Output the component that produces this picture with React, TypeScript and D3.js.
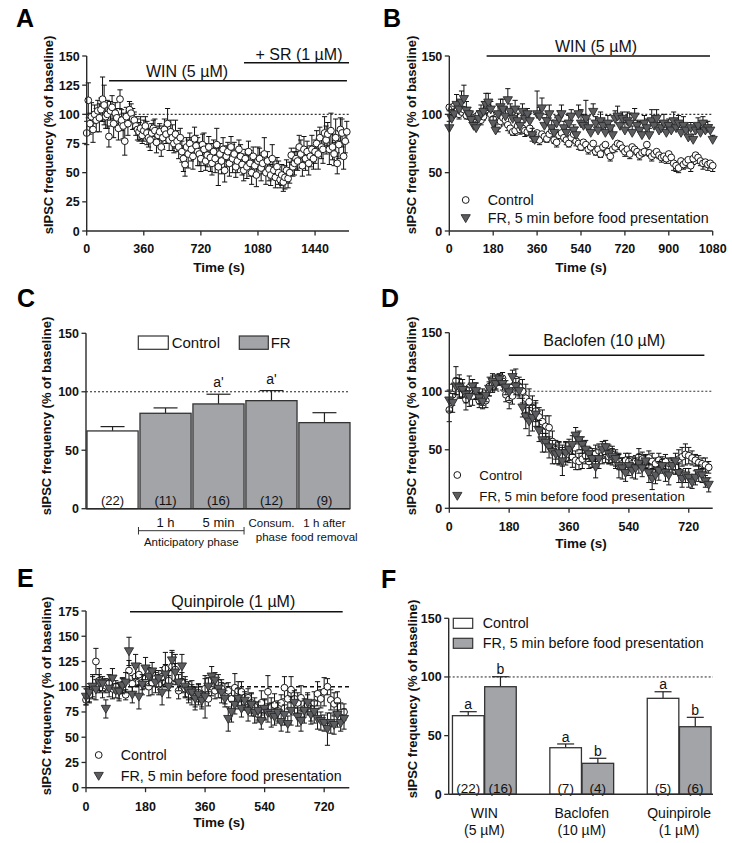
import React from 'react';
import * as d3 from 'd3';

// ---------------- DATA ----------------
// Panel A (WIN then +SR), 10 s bins
const binA = 10;
const aValues = [
  84, 112, 92, 98, 87, 100, 95, 103, 97, 104,
  113, 108, 98, 100, 81, 103, 106, 92, 101, 97,
  88, 113, 95, 90, 77, 98, 92, 104, 101, 96,
  95, 90, 87, 85, 88, 82, 86, 90, 84, 80,
  78, 84, 88, 86, 76, 82, 85, 72, 80, 87,
  83, 92, 78, 85, 80, 75, 83, 77, 72, 80,
  68, 62, 57, 72, 66, 75, 70, 64, 79, 73,
  68, 66, 62, 74, 70, 60, 65, 72, 63, 58,
  68, 62, 74, 55, 66, 60, 70, 52, 64, 68,
  58, 72, 62, 66, 55, 60, 70, 64, 57, 52,
  62, 55, 68, 58, 50, 64, 56, 48, 60, 62,
  54, 58, 66, 50, 60, 53, 48, 62, 52, 46,
  55, 50, 44, 48, 42, 46, 52, 45, 50, 65,
  55, 58, 62, 60, 72, 66, 56, 70, 62, 68,
  58, 64, 70, 62, 68, 75, 66, 80, 72, 70,
  84, 78, 83, 70, 86, 72, 66, 80, 58, 74,
  87, 84, 64, 77, 85,
];
const aErrors = [
  10, 15, 9, 12, 11, 8, 10, 9, 12, 10,
  19, 17, 10, 12, 9, 8, 10, 12, 9, 8,
  10, 8, 9, 11, 12, 8, 10, 7, 8, 9,
  7, 8, 9, 8, 10, 7, 9, 8, 10, 8,
  9, 8, 7, 10, 9, 8, 7, 8, 10, 9,
  8, 13, 9, 10, 11, 8, 12, 9, 10, 8,
  9, 11, 10, 8, 12, 9, 10, 11, 10, 9,
  12, 10, 11, 9, 14, 8, 10, 9, 12, 10,
  10, 12, 14, 16, 9, 11, 10, 10, 9, 8,
  11, 9, 12, 10, 9, 10, 8, 10, 9, 9,
  8, 10, 9, 11, 10, 8, 9, 10, 12, 9,
  11, 9, 14, 10, 8, 10, 9, 12, 8, 9,
  8, 10, 7, 9, 8, 10, 9, 8, 9, 6,
  8, 10, 9, 8, 10, 12, 9, 11, 10, 9,
  10, 9, 12, 9, 10, 11, 13, 9, 10, 12,
  14, 12, 10, 13, 15, 11, 10, 16, 9, 12,
  10, 12, 11, 10, 9,
];

// Panel B (WIN), 10 s bins
const binB = 10;
const bControl = [
  106, 104, 107, 103, 100, 102, 104, 99, 101, 97,
  96, 98, 100, 95, 98, 104, 106, 100, 96, 92,
  90, 94, 97, 95, 91, 88, 85, 86, 90, 87,
  88, 86, 85, 88, 82, 80, 84, 78, 83, 81,
  79, 83, 86, 78, 76, 82, 84, 80, 78, 75,
  80, 83, 77, 75, 72, 76, 74, 70, 72, 75,
  68, 70, 66, 72, 74, 68, 64, 70, 72, 75,
  74, 71, 68, 70, 66, 72, 70, 68, 65, 67,
  68, 74, 67, 64, 66, 68, 65, 63, 64, 62,
  66, 63, 58, 56, 54, 60, 57, 59, 61, 56,
  62, 65, 63, 60, 58, 59, 57, 58, 56,
];
const bControlErr = [
  3, 4, 3, 5, 4, 3, 4, 3, 5, 4,
  4, 3, 5, 4, 3, 4, 5, 4, 3, 4,
  5, 4, 3, 4, 5, 4, 3, 4, 5, 4,
  4, 5, 3, 4, 5, 4, 3, 4, 3, 4,
  3, 4, 5, 3, 4, 3, 4, 3, 4, 3,
  4, 3, 4, 5, 3, 4, 3, 4, 3, 4,
  3, 4, 3, 4, 5, 3, 4, 3, 4, 3,
  4, 3, 4, 3, 4, 3, 4, 3, 4, 3,
  3, 4, 3, 4, 3, 4, 3, 4, 3, 4,
  4, 5, 6, 5, 4, 5, 4, 5, 4, 5,
  5, 4, 5, 4, 5, 4, 5, 4, 5,
];
const bFR = [
  88, 96, 100, 108, 104, 110, 113, 103, 100, 95,
  90, 88, 96, 100, 102, 108, 110, 104, 92, 86,
  100, 106, 104, 98, 112, 102, 96, 104, 94, 90,
  102, 96, 100, 94, 82, 78, 100, 98, 105, 90,
  94, 100, 88, 84, 92, 96, 100, 88, 84, 92,
  98, 86, 82, 100, 92, 90, 96, 88, 84, 102,
  92, 86, 94, 90, 84, 92, 88, 82, 96, 98,
  90, 96, 86, 94, 92, 84, 98, 90, 86, 82,
  92, 88, 82, 94, 90, 96, 86, 88, 92, 84,
  90, 86, 94, 88, 92, 84, 90, 86, 80, 88,
  78, 86, 90, 84, 92, 86, 88, 86, 78,
];
const bFRErr = [
  6, 8, 7, 9, 8, 10, 12, 8, 6, 7,
  6, 5, 7, 8, 9, 10, 8, 7, 6, 5,
  8, 7, 9, 8, 10, 7, 6, 8, 7, 6,
  7, 6, 5, 7, 6, 5, 20, 8, 9, 7,
  6, 8, 7, 6, 5, 7, 8, 6, 5, 7,
  6, 5, 7, 8, 12, 10, 16, 8, 6, 7,
  6, 7, 8, 6, 5, 7, 6, 8, 7, 9,
  8, 6, 7, 8, 9, 6, 7, 5, 8, 6,
  7, 8, 6, 10, 9, 8, 7, 6, 8, 5,
  6, 7, 8, 6, 7, 5, 8, 6, 7, 5,
  5, 6, 7, 8, 6, 7, 6, 5, 4,
];

// Panel C (bars)
const cCategories = ['Control', '1 h', '5 min', 'Consum.', '1 h after'];
const cValues = [66.5, 81.6, 89.6, 92.4, 73.6];
const cErrors = [3.7, 4.6, 8.3, 8.6, 8.5];
const cCounts = ['(22)', '(11)', '(16)', '(12)', '(9)'];
const cLetters = ['', '', "a'", "a'", ''];
const cLabelLine1 = ['', '1 h', '5 min', 'Consum.', '1 h after'];
const cLabelLine2 = ['', '', '', 'phase', 'food removal'];

// Panel D (Baclofen), 10 s bins
const binD = 10;
const dControl = [
  84, 97, 109, 104, 102, 93, 103, 96, 100, 92,
  95, 92, 104, 106, 108, 110, 111, 97, 93, 96,
  110, 104, 100, 94, 91, 86, 83, 78, 74, 70,
  69, 57, 50, 47, 45, 48, 46, 44, 41, 40,
  42, 45, 40, 43, 47, 49, 45, 47, 44, 46,
  42, 40, 38, 41, 40, 38, 40, 44, 42, 40,
  43, 40, 38, 41, 39, 40, 36, 38, 35, 42,
  44, 46, 45, 43, 41, 39, 38, 37, 35,
];
const dControlErr = [
  10, 9, 12, 10, 8, 9, 10, 8, 7, 6,
  7, 6, 8, 7, 6, 5, 5, 6, 8, 7,
  9, 8, 10, 12, 11, 10, 9, 8, 10, 9,
  10, 9, 8, 10, 9, 8, 7, 9, 8, 7,
  8, 7, 6, 8, 7, 6, 7, 8, 6, 7,
  6, 7, 5, 6, 7, 6, 5, 7, 6, 5,
  6, 7, 5, 6, 5, 6, 7, 5, 6, 8,
  8, 9, 7, 6, 5, 6, 5, 6, 5,
];
const dFR = [
  92, 90, 104, 103, 101, 97, 95, 104, 100, 94,
  91, 96, 102, 108, 106, 110, 106, 103, 99, 112,
  104, 100, 86, 78, 74, 77, 80, 66, 58, 56,
  52, 48, 46, 47, 40, 47, 50, 54, 62, 58,
  54, 50, 46, 42, 35, 42, 50, 52, 46, 44,
  42, 36, 34, 30, 36, 32, 34, 38, 34, 40,
  30, 25, 28, 32, 36, 30, 28, 36, 40, 30,
  25, 28, 26, 22, 26, 30, 28, 23, 20,
];
const dFRErr = [
  9, 8, 7, 8, 6, 7, 8, 6, 7, 5,
  6, 5, 6, 7, 5, 4, 5, 6, 7, 6,
  7, 6, 8, 10, 12, 11, 10, 9, 10, 8,
  9, 10, 8, 9, 12, 10, 9, 8, 7, 8,
  7, 8, 6, 7, 9, 8, 7, 6, 8, 7,
  8, 10, 9, 7, 8, 6, 9, 8, 7, 6,
  8, 9, 7, 8, 6, 7, 8, 6, 7, 8,
  7, 6, 8, 5, 6, 7, 6, 5, 6,
];

// Panel E (Quinpirole), 10 s bins
const binE = 10;
const eControl = [
  87, 92, 100, 125, 106, 98, 101, 104, 98, 100,
  96, 102, 92, 116, 103, 110, 112, 104, 108, 100,
  104, 108, 102, 110, 118, 106, 120, 117, 96, 104,
  98, 92, 95, 90, 94, 88, 98, 88, 100, 96,
  104, 98, 93, 96, 88, 99, 96, 95, 85, 89,
  84, 80, 73, 84, 77, 95, 80, 82, 76, 84,
  99, 88, 97, 88, 84, 89, 78, 82, 75, 84,
  93, 88, 95, 100, 87, 83, 86, 74, 75,
];
const eControlErr = [
  5, 8, 10, 13, 12, 9, 7, 8, 10, 6,
  8, 6, 5, 10, 8, 9, 11, 7, 10, 9,
  12, 8, 10, 9, 16, 10, 14, 15, 8, 10,
  9, 8, 7, 10, 9, 8, 10, 7, 9, 8,
  8, 9, 10, 8, 12, 14, 9, 10, 8, 9,
  10, 9, 8, 12, 10, 16, 9, 11, 10, 8,
  11, 10, 13, 9, 10, 12, 8, 10, 9, 11,
  12, 9, 14, 8, 10, 11, 9, 10, 8,
];
const eFR = [
  90, 94, 100, 97, 104, 103, 78, 98, 108, 96,
  95, 101, 104, 135, 92, 120, 90, 102, 118, 110,
  115, 104, 108, 94, 112, 100, 126, 114, 104, 120,
  100, 96, 94, 88, 92, 86, 90, 100, 110, 106,
  98, 94, 88, 68, 75, 82, 88, 78, 86, 76,
  82, 74, 76, 66, 78, 74, 72, 70, 74, 65,
  72, 63, 76, 84, 70, 66, 76, 84, 72, 75,
  68, 66, 64, 58, 64, 62, 72, 64, 68,
];
const eFRErr = [
  8, 9, 12, 10, 8, 7, 9, 8, 10, 7,
  9, 8, 10, 14, 8, 12, 12, 10, 11, 9,
  9, 10, 8, 12, 10, 11, 10, 9, 8, 12,
  10, 9, 12, 11, 10, 8, 21, 9, 10, 8,
  9, 10, 8, 12, 10, 9, 10, 8, 9, 10,
  11, 10, 9, 8, 10, 9, 12, 8, 10, 9,
  10, 8, 14, 12, 9, 10, 12, 10, 9, 11,
  10, 9, 8, 16, 10, 9, 12, 8, 10,
];

// Panel F (grouped bars)
const fGroups = ['WIN', 'Baclofen', 'Quinpirole'];
const fGroupSub = ['(5 \u00b5M)', '(10 \u00b5M)', '(1 \u00b5M)'];
const fControl = [67, 39.7, 81.8];
const fControlErr = [3.4, 3.2, 5.6];
const fFR = [91.7, 26.4, 57.6];
const fFRErr = [8.5, 4.3, 8.0];
const fControlN = ['(22)', '(7)', '(5)'];
const fFRN = ['(16)', '(4)', '(6)'];

// Axis ticks
const ticksY150by25 = [0, 25, 50, 75, 100, 125, 150];
const ticksY150by50 = [0, 50, 100, 150];
const ticksY175by25 = [0, 25, 50, 75, 100, 125, 150, 175];
const ticksXA = [0, 360, 720, 1080, 1440];
const ticksXB = [0, 180, 360, 540, 720, 900, 1080];
const ticksXDE = [0, 180, 360, 540, 720];

// ---------------- STYLE ----------------
const FONT = "'Liberation Sans', Arial, Helvetica, sans-serif";
const AXIS = '#2a2a2a';
const BAR_GRAY = '#a2a4a8';
const TRI_FILL = '#5c5d60';
const YLABEL = 'sIPSC frequency (% of baseline)';
const MU = '\u00b5';

type Series = { values: number[]; errors: number[]; bin: number; shape: 'circle' | 'tri'; dir: 'both' | 'up' | 'down' };
type Drug = { t0: number; t1: number; y: number; label: string; lx: number; ly: number };

function triPath(x: number, y: number) {
  return `M${x - 4.6},${y - 3.6}L${x + 4.6},${y - 3.6}L${x},${y + 4.3}Z`;
}

function PanelLetter({ x, y, t }: { x: number; y: number; t: string }) {
  return (
    <text x={x} y={y} fontFamily={FONT} fontWeight="bold" fontSize={25} fill="#000">
      {t}
    </text>
  );
}

function YAxis({ x, y, ticks }: { x: number; y: d3.ScaleLinear<number, number>; ticks: number[] }) {
  const r = y.range();
  return (
    <g>
      <line x1={x} x2={x} y1={r[0]} y2={r[1]} stroke={AXIS} strokeWidth={1.4} />
      {ticks.map((t) => (
        <g key={t}>
          <line x1={x - 4.5} x2={x} y1={y(t)} y2={y(t)} stroke={AXIS} strokeWidth={1.3} />
          <text x={x - 7} y={y(t)} dy="0.36em" textAnchor="end" fontFamily={FONT} fontWeight="bold" fontSize={12.5} fill="#111">
            {t}
          </text>
        </g>
      ))}
    </g>
  );
}

function YTitle({ x, y }: { x: number; y: number }) {
  return (
    <text transform={`translate(${x},${y}) rotate(-90)`} textAnchor="middle" dy="0.36em" fontFamily={FONT} fontWeight="bold" fontSize={13} fill="#111">
      {YLABEL}
    </text>
  );
}

function TimePanel(props: {
  xRange: [number, number];
  yRange: [number, number];
  xMax: number;
  yMax: number;
  xTicks: number[];
  yTicks: number[];
  tickLabelY: number;
  titleY: number;
  titleX: number;
  yTitle: [number, number];
  letter: [number, number, string];
  refDash: string;
  refWidth: number;
  refColor: string;
  drugs: Drug[];
  series: Series[];
  legend?: { x: number; y1: number; y2: number; size: number };
}) {
  const x = d3.scaleLinear().domain([0, props.xMax]).range(props.xRange);
  const y = d3.scaleLinear().domain([0, props.yMax]).range(props.yRange);
  const x0 = props.xRange[0];
  const yb = props.yRange[0];
  return (
    <g>
      <PanelLetter x={props.letter[0]} y={props.letter[1]} t={props.letter[2]} />
      <YTitle x={props.yTitle[0]} y={props.yTitle[1]} />
      <line x1={x(0)} x2={props.xRange[1]} y1={y(100)} y2={y(100)} stroke={props.refColor} strokeWidth={props.refWidth} strokeDasharray={props.refDash} />
      {props.drugs.map((d, i) => (
        <g key={i}>
          <line x1={x(d.t0)} x2={x(d.t1)} y1={d.y} y2={d.y} stroke="#111" strokeWidth={1.6} />
          <text x={d.lx} y={d.ly} dy="0.36em" textAnchor="middle" fontFamily={FONT} fontSize={16} fill="#111">
            {d.label}
          </text>
        </g>
      ))}
      {props.series.map((s, si) => (
        <g key={si}>
          {s.values.map((v, i) => {
            const px = x(i * s.bin);
            const e = s.errors[i];
            const top = s.dir === 'down' ? y(v) : y(v + e);
            const bot = s.dir === 'up' ? y(v) : y(v - e);
            return (
              <g key={i}>
                <line x1={px} x2={px} y1={top} y2={bot} stroke="#111" strokeWidth={1} />
                {s.dir !== 'down' && <line x1={px - 2.6} x2={px + 2.6} y1={top} y2={top} stroke="#111" strokeWidth={1} />}
                {s.dir !== 'up' && <line x1={px - 2.6} x2={px + 2.6} y1={bot} y2={bot} stroke="#111" strokeWidth={1} />}
              </g>
            );
          })}
          {s.values.map((v, i) => {
            const px = x(i * s.bin);
            return s.shape === 'circle' ? (
              <circle key={'m' + i} cx={px} cy={y(v)} r={3.4} fill="#fff" stroke="#1a1a1a" strokeWidth={1} />
            ) : (
              <path key={'m' + i} d={triPath(px, y(v))} fill={TRI_FILL} stroke="#2a2a2a" strokeWidth={0.9} />
            );
          })}
        </g>
      ))}
      <YAxis x={x0} y={y} ticks={props.yTicks} />
      <line x1={x0} x2={props.xRange[1]} y1={yb} y2={yb} stroke={AXIS} strokeWidth={1.4} />
      {props.xTicks.map((t) => (
        <g key={t}>
          <line x1={x(t)} x2={x(t)} y1={yb} y2={yb + 4.5} stroke={AXIS} strokeWidth={1.3} />
          <text x={x(t)} y={props.tickLabelY} dy="0.36em" textAnchor="middle" fontFamily={FONT} fontWeight="bold" fontSize={12.5} fill="#111">
            {t}
          </text>
        </g>
      ))}
      <text x={props.titleX} y={props.titleY} dy="0.36em" textAnchor="middle" fontFamily={FONT} fontWeight="bold" fontSize={13.5} fill="#111">
        Time (s)
      </text>
      {props.legend && (
        <g fontFamily={FONT} fontSize={props.legend.size} fill="#111">
          <circle cx={props.legend.x - 22} cy={props.legend.y1} r={3.4} fill="#fff" stroke="#1a1a1a" strokeWidth={1} />
          <text x={props.legend.x} y={props.legend.y1} dy="0.36em">Control</text>
          <path d={triPath(props.legend.x - 22, props.legend.y2)} fill={TRI_FILL} stroke="#2a2a2a" strokeWidth={0.9} />
          <text x={props.legend.x} y={props.legend.y2} dy="0.36em">FR, 5 min before food presentation</text>
        </g>
      )}
    </g>
  );
}

function PanelC() {
  const y = d3.scaleLinear().domain([0, 150]).range([508.7, 333.3]);
  const xb = d3.scaleBand<string>().domain(cCategories).range([87, 350]).paddingInner(0.035).paddingOuter(0);
  const x0 = 86;
  const yb = 508.7;
  const bw = xb.bandwidth();
  return (
    <g>
      <PanelLetter x={17} y={307} t="C" />
      <YTitle x={46.7} y={416} />
      <line x1={x0} x2={350} y1={y(100)} y2={y(100)} stroke="#222" strokeWidth={1} strokeDasharray="2,2" />
      {cCategories.map((c, i) => {
        const bx = xb(c)!;
        const cx = bx + bw / 2;
        const top = y(cValues[i] + cErrors[i]);
        return (
          <g key={c}>
            <line x1={cx} x2={cx} y1={y(cValues[i])} y2={top} stroke="#222" strokeWidth={1.2} />
            <line x1={cx - 12} x2={cx + 12} y1={top} y2={top} stroke="#222" strokeWidth={1.2} />
            <rect x={bx} y={y(cValues[i])} width={bw} height={yb - y(cValues[i])} fill={i === 0 ? '#fff' : BAR_GRAY} stroke="#333" strokeWidth={1.3} />
            <text x={cx} y={500} dy="0.36em" textAnchor="middle" fontFamily={FONT} fontSize={13} fill="#111">{cCounts[i]}</text>
            {cLetters[i] && (
              <text x={cx} y={top - 12} dy="0.36em" textAnchor="middle" fontFamily={FONT} fontSize={14} fill="#111">{cLetters[i]}</text>
            )}
            {i < 3 ? (
              <text x={cx} y={522.7} dy="0.36em" textAnchor="middle" fontFamily={FONT} fontSize={13} fill="#111">{cLabelLine1[i]}</text>
            ) : (
              <text x={cx} y={523.3} dy="0.36em" textAnchor="middle" fontFamily={FONT} fontSize={11.5} fill="#111">{cLabelLine1[i]}</text>
            )}
            {cLabelLine2[i] && (
              <text x={cx} y={536.7} dy="0.36em" textAnchor="middle" fontFamily={FONT} fontSize={11.5} fill="#111">{cLabelLine2[i]}</text>
            )}
          </g>
        );
      })}
      {(() => {
        const l = xb(cCategories[1])! - 1.5;
        const r = xb(cCategories[2])! + bw;
        return (
          <g>
            <line x1={l} x2={r} y1={530.7} y2={530.7} stroke="#333" strokeWidth={1} />
            <line x1={l} x2={l} y1={527} y2={534.5} stroke="#333" strokeWidth={1} />
            <line x1={r} x2={r} y1={527} y2={534.5} stroke="#333" strokeWidth={1} />
            <text x={(l + r) / 2} y={541.7} dy="0.36em" textAnchor="middle" fontFamily={FONT} fontSize={11.5} fill="#111">Anticipatory phase</text>
          </g>
        );
      })()}
      <YAxis x={x0} y={y} ticks={ticksY150by50} />
      <line x1={x0} x2={350} y1={yb} y2={yb} stroke={AXIS} strokeWidth={1.4} />
      <rect x={138.3} y={336} width={30} height={13.3} fill="#fff" stroke="#333" strokeWidth={1.2} />
      <text x={171.7} y={342.7} dy="0.36em" fontFamily={FONT} fontSize={15} fill="#111">Control</text>
      <rect x={239.3} y={336} width={29} height={13.3} fill={BAR_GRAY} stroke="#333" strokeWidth={1.2} />
      <text x={270.7} y={342.7} dy="0.36em" fontFamily={FONT} fontSize={15} fill="#111">FR</text>
    </g>
  );
}

function PanelF() {
  const y = d3.scaleLinear().domain([0, 150]).range([794.3, 618.3]);
  const xg = d3.scaleBand<string>().domain(fGroups).range([450.5, 713]).paddingInner(0.345).paddingOuter(0.02);
  const xi = d3.scaleBand<string>().domain(['c', 'f']).range([0, xg.bandwidth()]).paddingInner(0.02);
  const x0 = 448.7;
  const yb = 794.3;
  const bw = xi.bandwidth();
  return (
    <g>
      <PanelLetter x={381} y={588} t="F" />
      <YTitle x={412.7} y={699} />
      <line x1={x0} x2={713} y1={y(100)} y2={y(100)} stroke="#222" strokeWidth={1} strokeDasharray="2,2" />
      {fGroups.map((g, gi) => {
        const gx = xg(g)!;
        const gc = gx + xg.bandwidth() / 2;
        const bars = [
          { k: 'c', v: fControl[gi], e: fControlErr[gi], n: fControlN[gi], fill: '#fff', letter: 'a' },
          { k: 'f', v: fFR[gi], e: fFRErr[gi], n: fFRN[gi], fill: BAR_GRAY, letter: 'b' },
        ];
        return (
          <g key={g}>
            {bars.map((b) => {
              const bx = gx + xi(b.k)!;
              const cx = bx + bw / 2;
              const top = y(b.v + b.e);
              return (
                <g key={b.k}>
                  <line x1={cx} x2={cx} y1={y(b.v)} y2={top} stroke="#222" strokeWidth={1.2} />
                  <line x1={cx - 8.5} x2={cx + 8.5} y1={top} y2={top} stroke="#222" strokeWidth={1.2} />
                  <rect x={bx} y={y(b.v)} width={bw} height={yb - y(b.v)} fill={b.fill} stroke="#333" strokeWidth={1.3} />
                  <text x={cx} y={788.3} dy="0.36em" textAnchor="middle" fontFamily={FONT} fontSize={13.5} fill="#111">{b.n}</text>
                  <text x={cx} y={top - 7.5} dy="0.36em" textAnchor="middle" fontFamily={FONT} fontSize={14} fill="#111">{b.letter}</text>
                </g>
              );
            })}
            <text x={gc} y={813.3} dy="0.36em" textAnchor="middle" fontFamily={FONT} fontSize={14} fill="#111">{g}</text>
            <text x={gc} y={830} dy="0.36em" textAnchor="middle" fontFamily={FONT} fontSize={14} fill="#111">{fGroupSub[gi]}</text>
          </g>
        );
      })}
      <YAxis x={x0} y={y} ticks={ticksY150by50} />
      <line x1={x0} x2={713} y1={yb} y2={yb} stroke={AXIS} strokeWidth={1.4} />
      <rect x={453.3} y={618.3} width={19.4} height={10} fill="#fff" stroke="#333" strokeWidth={1.2} />
      <text x={482.7} y={622.7} dy="0.36em" fontFamily={FONT} fontSize={14.3} fill="#111">Control</text>
      <rect x={453.3} y={638.3} width={19.4} height={10} fill={BAR_GRAY} stroke="#333" strokeWidth={1.2} />
      <text x={482.7} y={643.3} dy="0.36em" fontFamily={FONT} fontSize={14.3} fill="#111">FR, 5 min before food presentation</text>
    </g>
  );
}

export default function App() {
  return (
    <svg width={732} height={843} viewBox="0 0 732 843" style={{ position: 'absolute', left: 0, top: 0, background: '#fff' }}>
      <rect x={0} y={0} width={732} height={843} fill="#fff" />
      <TimePanel
        xRange={[86.7, 349]}
        yRange={[231, 56]}
        xMax={1654}
        yMax={150}
        xTicks={ticksXA}
        yTicks={ticksY150by25}
        tickLabelY={248.3}
        titleY={267}
        titleX={219}
        yTitle={[48, 135]}
        letter={[16, 27, 'A']}
        refDash="2,2"
        refWidth={1.1}
        refColor="#333"
        drugs={[
          { t0: 141, t1: 1641, y: 80.7, label: `WIN (5 ${MU}M)`, lx: 187, ly: 71 },
          { t0: 992, t1: 1654, y: 62.7, label: `+ SR (1 ${MU}M)`, lx: 299, ly: 54 },
        ]}
        series={[{ values: aValues, errors: aErrors, bin: binA, shape: 'circle', dir: 'both' }]}
      />
      <TimePanel
        xRange={[449.3, 712.7]}
        yRange={[231, 56]}
        xMax={1080}
        yMax={150}
        xTicks={ticksXB}
        yTicks={ticksY150by50}
        tickLabelY={248.3}
        titleY={266.7}
        titleX={581}
        yTitle={[411, 135]}
        letter={[383, 27, 'B']}
        refDash="2,2"
        refWidth={1.1}
        refColor="#333"
        drugs={[{ t0: 153, t1: 1069, y: 56, label: `WIN (5 ${MU}M)`, lx: 596, ly: 46.7 }]}
        series={[
          { values: bControl, errors: bControlErr, bin: binB, shape: 'circle', dir: 'down' },
          { values: bFR, errors: bFRErr, bin: binB, shape: 'tri', dir: 'up' },
        ]}
        legend={{ x: 487.7, y1: 200, y2: 218.3, size: 14.3 }}
      />
      <PanelC />
      <TimePanel
        xRange={[449.3, 712.7]}
        yRange={[508.3, 332.7]}
        xMax={792}
        yMax={150}
        xTicks={ticksXDE}
        yTicks={ticksY150by50}
        tickLabelY={526.7}
        titleY={543.3}
        titleX={581}
        yTitle={[411, 416]}
        letter={[381, 307, 'D']}
        refDash="2,2"
        refWidth={1.1}
        refColor="#333"
        drugs={[{ t0: 179, t1: 767, y: 355.3, label: `Baclofen (10 ${MU}M)`, lx: 604.3, ly: 340.7 }]}
        series={[
          { values: dControl, errors: dControlErr, bin: binD, shape: 'circle', dir: 'both' },
          { values: dFR, errors: dFRErr, bin: binD, shape: 'tri', dir: 'both' },
        ]}
        legend={{ x: 479.3, y1: 475, y2: 496, size: 13.3 }}
      />
      <TimePanel
        xRange={[86, 349.3]}
        yRange={[787.7, 611]}
        xMax={796}
        yMax={175}
        xTicks={ticksXDE}
        yTicks={ticksY175by25}
        tickLabelY={806.7}
        titleY={821.7}
        titleX={219}
        yTitle={[46.7, 696]}
        letter={[17, 587, 'E']}
        refDash="4,3"
        refWidth={1.7}
        refColor="#111"
        drugs={[{ t0: 133, t1: 776, y: 611.7, label: `Quinpirole (1 ${MU}M)`, lx: 233.3, ly: 601.7 }]}
        series={[
          { values: eControl, errors: eControlErr, bin: binE, shape: 'circle', dir: 'both' },
          { values: eFR, errors: eFRErr, bin: binE, shape: 'tri', dir: 'both' },
        ]}
        legend={{ x: 120.7, y1: 755, y2: 776, size: 14.3 }}
      />
      <PanelF />
    </svg>
  );
}
